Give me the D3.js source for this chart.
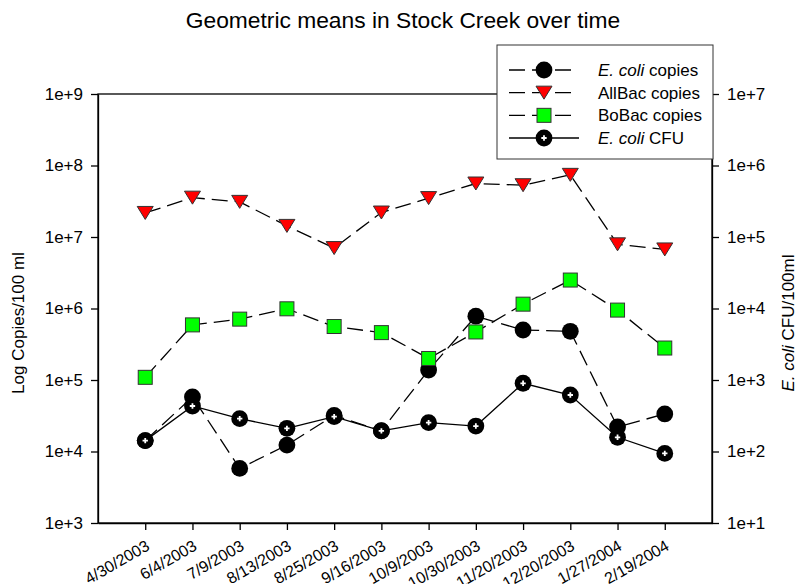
<!doctype html>
<head>
  <style>
    html, body { margin: 0; padding: 0; background: #fff; }
    svg { display: block; font-family: Arial, "Liberation Sans", sans-serif; }
    .axis path, .axis line { stroke: #000; stroke-width: 1.3px; }
    .axis text { fill: #000; }
  </style>
  <script src="https://cdn.jsdelivr.net/npm/d3@7"></script>
</head>
<body>
  <svg id="chart" width="795" height="584"></svg>
  <script>
    // sampling dates (x categories)
    var dates = ['4/30/2003', '6/4/2003', '7/9/2003', '8/13/2003', '8/25/2003', '9/16/2003',
                 '10/9/2003', '10/30/2003', '11/20/2003', '12/20/2003', '1/27/2004', '2/19/2004'];

    // geometric means, copies per 100 ml (left axis)
    var ecoliCopies = [1.42e4, 5.8e4, 5.8e3, 1.23e4, 3.2e4, 1.95e4, 1.38e5, 7.8e5, 5.0e5, 4.8e5, 2.2e4, 3.35e4];
    var allBac      = [2.17e7, 3.55e7, 3.1e7, 1.43e7, 7.0e6, 2.2e7, 3.5e7, 5.6e7, 5.3e7, 7.4e7, 7.9e6, 6.7e6];
    var boBac       = [1.09e5, 5.9e5, 7.1e5, 9.9e5, 5.6e5, 4.6e5, 2.0e5, 4.7e5, 1.15e6, 2.5e6, 9.5e5, 2.8e5];
    // E. coli CFU per 100 ml (right axis)
    var ecoliCFU    = [142, 433, 288, 211, 307, 194, 253, 227, 900, 617, 158, 94];

    var leftTicks = [1e3, 1e4, 1e5, 1e6, 1e7, 1e8, 1e9];
    var rightTicks = [1e1, 1e2, 1e3, 1e4, 1e5, 1e6, 1e7];

    var svg = d3.select('#chart');
    var plotL = 98, plotR = 712, plotT = 94, plotB = 523;

    var x = d3.scaleLinear().domain([-1, dates.length]).range([plotL, plotR]);
    var yL = d3.scaleLog().domain([1e3, 1e9]).range([plotB, plotT]);
    var yR = d3.scaleLog().domain([1e1, 1e7]).range([plotB, plotT]);

    var expFmt = function(d) { return '1e+' + Math.round(Math.log10(d)); };

    // frame
    svg.append('rect')
        .attr('x', plotL).attr('y', plotT)
        .attr('width', plotR - plotL).attr('height', plotB - plotT)
        .attr('fill', 'none').attr('stroke', '#000').attr('stroke-width', 1.3);

    var gl = svg.append('g').attr('class', 'axis')
        .attr('transform', 'translate(' + plotL + ',0)')
        .call(d3.axisLeft(yL).tickValues(leftTicks).tickFormat(expFmt).tickSize(7).tickSizeOuter(0).tickPadding(8));
    gl.selectAll('text').style('font-size', '17px');

    var gr = svg.append('g').attr('class', 'axis')
        .attr('transform', 'translate(' + plotR + ',0)')
        .call(d3.axisRight(yR).tickValues(rightTicks).tickFormat(expFmt).tickSize(7).tickSizeOuter(0).tickPadding(8));
    gr.selectAll('text').style('font-size', '17px');

    var gb = svg.append('g').attr('class', 'axis')
        .attr('transform', 'translate(0,' + plotB + ')')
        .call(d3.axisBottom(x).tickValues(d3.range(dates.length)).tickFormat(function(i) { return dates[i]; })
          .tickSize(7).tickSizeOuter(0));
    gb.selectAll('text')
        .style('font-size', '16px')
        .attr('text-anchor', 'end')
        .attr('dy', null)
        .attr('y', null)
        .attr('transform', 'translate(5,26) rotate(-30)');

    // titles
    svg.append('text')
        .attr('x', 403).attr('y', 28)
        .attr('text-anchor', 'middle')
        .style('font-size', '22.8px')
        .text('Geometric means in Stock Creek over time');

    svg.append('text')
        .attr('transform', 'translate(24,323) rotate(-90)')
        .attr('text-anchor', 'middle')
        .style('font-size', '17px')
        .text('Log Copies/100 ml');

    var rt = svg.append('text')
        .attr('transform', 'translate(794,323) rotate(-90)')
        .attr('text-anchor', 'middle')
        .style('font-size', '17px');
    rt.append('tspan').style('font-style', 'italic').text('E. coli');
    rt.append('tspan').text(' CFU/100ml');

    // marker painters
    function drawCircle(g, cx, cy) {
      g.append('circle').attr('cx', cx).attr('cy', cy).attr('r', 8.4).attr('fill', '#000');
    }
    function drawTriangle(g, cx, cy) {
      g.append('path')
          .attr('d', 'M' + (cx - 8) + ',' + (cy - 6.5) + 'L' + (cx + 8) + ',' + (cy - 6.5) + 'L' + cx + ',' + (cy + 6.5) + 'Z')
          .attr('fill', '#ff0000').attr('stroke', '#333').attr('stroke-width', 1);
    }
    function drawSquare(g, cx, cy) {
      g.append('rect').attr('x', cx - 7).attr('y', cy - 7).attr('width', 14).attr('height', 14)
          .attr('fill', '#00ff00').attr('stroke', '#333').attr('stroke-width', 1);
    }
    function drawCFU(g, cx, cy) {
      g.append('circle').attr('cx', cx).attr('cy', cy).attr('r', 8.4).attr('fill', '#000');
      g.append('path')
          .attr('transform', 'translate(' + cx + ',' + cy + ')')
          .attr('d', d3.symbol().type(d3.symbolCross).size(16)())
          .attr('fill', '#fff');
    }

    var series = [
      { values: ecoliCopies, y: yL, dash: '16,7', marker: drawCircle },
      { values: allBac, y: yL, dash: '16,7', marker: drawTriangle },
      { values: boBac, y: yL, dash: '16,7', marker: drawSquare },
      { values: ecoliCFU, y: yR, dash: null, marker: drawCFU }
    ];

    series.forEach(function(s) {
      var g = svg.append('g');
      var line = d3.line()
          .x(function(d, i) { return x(i); })
          .y(function(d) { return s.y(d); });
      g.append('path')
          .datum(s.values)
          .attr('d', line)
          .attr('fill', 'none')
          .attr('stroke', '#000')
          .attr('stroke-width', 1.3)
          .attr('stroke-dasharray', s.dash);
      s.values.forEach(function(v, i) { s.marker(g, x(i), s.y(v)); });
    });

    // legend
    var legendLabels = [
      [['E. coli', true], [' copies', false]],
      [['AllBac copies', false]],
      [['BoBac copies', false]],
      [['E. coli', true], [' CFU', false]]
    ];
    var lg = svg.append('g');
    lg.append('rect')
        .attr('x', 497).attr('y', 45).attr('width', 216).attr('height', 114)
        .attr('fill', '#fff').attr('stroke', '#333').attr('stroke-width', 1);
    var rowY = d3.scaleLinear().domain([0, 3]).range([70, 138]);
    series.forEach(function(s, k) {
      var cy = rowY(k);
      lg.append('line')
          .attr('x1', 509).attr('x2', s.dash ? 573 : 579)
          .attr('y1', cy).attr('y2', cy)
          .attr('stroke', '#000').attr('stroke-width', 1.3)
          .attr('stroke-dasharray', s.dash);
      s.marker(lg, 544, cy);
      var t = lg.append('text')
          .attr('x', 598).attr('y', cy + 6)
          .style('font-size', '17px');
      legendLabels[k].forEach(function(p) {
        t.append('tspan').style('font-style', p[1] ? 'italic' : 'normal').text(p[0]);
      });
    });
  </script>
</body>
